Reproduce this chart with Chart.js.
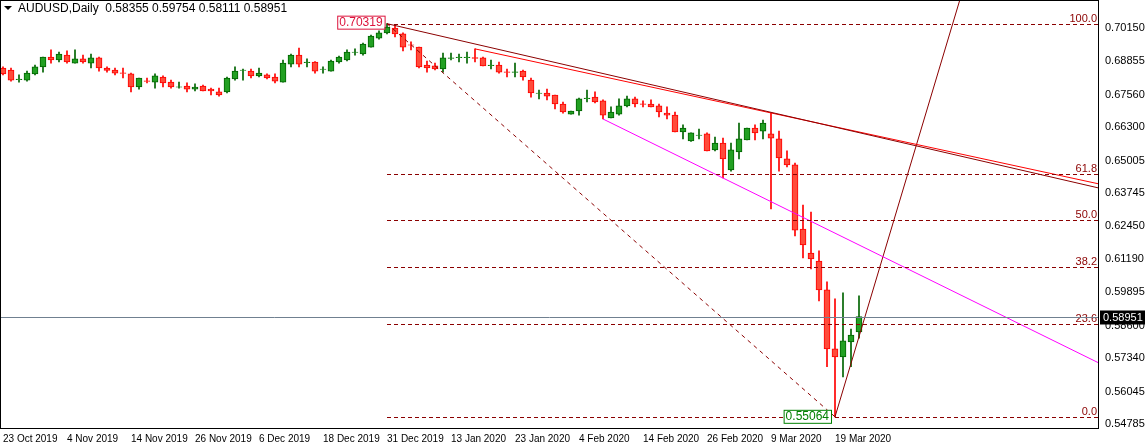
<!DOCTYPE html>
<html>
<head>
<meta charset="utf-8">
<script src="https://cdn.jsdelivr.net/npm/chart.js@4.4.0/dist/chart.umd.min.js"></script>
<style>
  body { margin: 0; background: #fff; }
  #wrap { width: 1145px; height: 448px; }
</style>
</head>
<body>
<div id="wrap"><canvas id="c"></canvas></div>
<script>
// Velas diarias AUDUSD
const opens  = [0.6860,0.6852,0.6815,0.6813,0.6837,0.6864,0.6902,0.6891,0.6910,0.6879,0.6895,0.6879,0.6899,0.6860,0.6852,0.6841,0.6837,0.6786,0.6810,0.6805,0.6825,0.6805,0.6785,0.6790,0.6778,0.6790,0.6778,0.6767,0.6767,0.6817,0.6850,0.6848,0.6829,0.6833,0.6825,0.6805,0.6875,0.6910,0.6881,0.6883,0.6854,0.6848,0.6883,0.6891,0.6920,0.6914,0.6941,0.6976,0.6996,0.7015,0.6992,0.6950,0.6941,0.6871,0.6868,0.6856,0.6897,0.6900,0.6900,0.6900,0.6899,0.6869,0.6871,0.6845,0.6843,0.6848,0.6813,0.6761,0.6763,0.6755,0.6720,0.6681,0.6693,0.6741,0.6747,0.6732,0.6666,0.6681,0.6713,0.6740,0.6721,0.6720,0.6713,0.6685,0.6677,0.6612,0.6577,0.6598,0.6604,0.6542,0.6569,0.6464,0.6534,0.6581,0.6627,0.6615,0.6604,0.6585,0.6507,0.6484,0.6235,0.6142,0.6111,0.5999,0.5770,0.5739,0.5797,0.58355];
const highs  = [0.6864,0.6860,0.6833,0.6848,0.6871,0.6902,0.6930,0.6922,0.6926,0.6930,0.6910,0.6914,0.6902,0.6864,0.6860,0.6860,0.6840,0.6821,0.6821,0.6837,0.6829,0.6813,0.6805,0.6802,0.6798,0.6794,0.6782,0.6782,0.6825,0.6864,0.6856,0.6856,0.6860,0.6837,0.6837,0.6891,0.6914,0.6937,0.6895,0.6885,0.6864,0.6891,0.6906,0.6930,0.6934,0.6957,0.6988,0.7004,0.70319,0.7027,0.6996,0.6961,0.6941,0.6887,0.6879,0.6918,0.6918,0.6914,0.6922,0.6934,0.6902,0.6891,0.6883,0.6856,0.6879,0.6852,0.6821,0.6774,0.6778,0.6755,0.6728,0.6693,0.6743,0.6774,0.6767,0.6736,0.6709,0.6740,0.6751,0.6747,0.6732,0.6736,0.6720,0.6709,0.6689,0.6639,0.6608,0.6623,0.6608,0.6592,0.6588,0.6569,0.6646,0.6627,0.6639,0.6658,0.6685,0.6615,0.6538,0.6491,0.6328,0.6301,0.6150,0.6030,0.5964,0.5987,0.5847,0.59754];
const lows   = [0.6833,0.6809,0.6805,0.6809,0.6833,0.6844,0.6879,0.6883,0.6879,0.6879,0.6879,0.6860,0.6848,0.6844,0.6833,0.6821,0.6767,0.6778,0.6802,0.6782,0.6786,0.6782,0.6782,0.6767,0.6771,0.6771,0.6755,0.6751,0.6763,0.6813,0.6813,0.6821,0.6825,0.6817,0.6802,0.6805,0.6864,0.6864,0.6864,0.6840,0.6840,0.6848,0.6879,0.6887,0.6910,0.6910,0.6941,0.6972,0.6992,0.6980,0.6926,0.6930,0.6860,0.6844,0.6852,0.6844,0.6891,0.6883,0.6879,0.6883,0.6868,0.6856,0.6840,0.6825,0.6825,0.6813,0.6747,0.6740,0.6736,0.6701,0.6685,0.6681,0.6677,0.6728,0.6724,0.6662,0.6666,0.6677,0.6709,0.6709,0.6709,0.6709,0.6670,0.6662,0.6612,0.6585,0.6575,0.6585,0.6538,0.6538,0.6433,0.6460,0.6507,0.6581,0.6581,0.6585,0.6313,0.6460,0.6476,0.6208,0.6123,0.6080,0.5956,0.5701,0.55064,0.5661,0.5701,0.58111];
const closes = [0.6837,0.6813,0.6817,0.6840,0.6864,0.6902,0.6891,0.6914,0.6883,0.6895,0.6883,0.6899,0.6860,0.6850,0.6840,0.6839,0.6786,0.6821,0.6808,0.6829,0.6802,0.6786,0.6787,0.6778,0.6786,0.6771,0.6771,0.6755,0.6821,0.6848,0.6852,0.6829,0.6840,0.6821,0.6809,0.6879,0.6910,0.6875,0.6883,0.6848,0.6856,0.6887,0.6902,0.6922,0.6922,0.6953,0.6984,0.6996,0.7019,0.6992,0.6941,0.6948,0.6864,0.6860,0.6856,0.6899,0.6899,0.6902,0.6902,0.6897,0.6868,0.6871,0.6844,0.6843,0.6845,0.6825,0.6763,0.6763,0.6751,0.6720,0.6689,0.6693,0.6740,0.6743,0.6728,0.6677,0.6689,0.6713,0.6740,0.6720,0.6719,0.6709,0.6689,0.6677,0.6612,0.6627,0.6608,0.6600,0.6538,0.6569,0.6507,0.6542,0.6585,0.6627,0.6608,0.6646,0.6588,0.6511,0.6484,0.6231,0.6173,0.6119,0.5999,0.5770,0.5739,0.5801,0.5824,0.58951];

// Etiquetas del eje X (cada 8 velas) y del eje Y
const fechas = ['23 Oct 2019','4 Nov 2019','14 Nov 2019','26 Nov 2019','6 Dec 2019','18 Dec 2019','31 Dec 2019','13 Jan 2020','23 Jan 2020','4 Feb 2020','14 Feb 2020','26 Feb 2020','9 Mar 2020','19 Mar 2020'];
const precios = [0.70150,0.68855,0.67560,0.66300,0.65005,0.63745,0.62450,0.61190,0.59895,0.58600,0.57340,0.56045,0.54785];

// Retroceso de Fibonacci
const fibAlto = 0.70319, fibBajo = 0.55064;
const fibNiveles = [100.0, 61.8, 50.0, 38.2, 23.6, 0.0];
const precioActual = 0.58951;

// Líneas de tendencia (índice de vela, precio)
const tendOscura = [{x:48,y:0.70319},{x:137,y:0.6394}];
const tendRoja   = [{x:59,y:0.6934},{x:137,y:0.6410}];
const tendMagenta= [{x:75,y:0.6662},{x:137,y:0.5715}];
const diagFib    = [{x:48,y:0.70319},{x:104,y:0.55064}];
const subida     = [{x:104,y:0.55064},{x:119.6,y:0.71237}];

const idx = opens.map((_, i) => i);
const alcista = idx.map(i => closes[i] >= opens[i]);

const ROJO = '#ff0000', VERDE = '#006400', GRANATE = '#8b0000';
const FUENTE = '"Liberation Sans", Arial, sans-serif';

function linea(data, color, dash) {
  return { type: 'line', data, borderColor: color, borderWidth: 1, borderDash: dash || [],
           pointRadius: 0, fill: false, tension: 0, order: 0 };
}

function sinRelleno(s) { s.paddingTop = 0; s.paddingBottom = 0; s.paddingLeft = 0; s.paddingRight = 0; }

const extras = {
  id: 'extras',
  afterDatasetsDraw(chart) {
    const { ctx, chartArea: a, scales: { x, y } } = chart;
    ctx.save();
    // niveles de Fibonacci
    const x0 = x.getPixelForValue(48);
    ctx.font = '11px ' + FUENTE;
    ctx.textAlign = 'right';
    ctx.textBaseline = 'bottom';
    fibNiveles.forEach(n => {
      const p = fibBajo + (fibAlto - fibBajo) * n / 100;
      const py = Math.round(y.getPixelForValue(p)) + 0.5;
      ctx.strokeStyle = GRANATE; ctx.setLineDash([4, 3]); ctx.lineWidth = 1;
      ctx.beginPath(); ctx.moveTo(x0, py); ctx.lineTo(a.right, py); ctx.stroke();
      ctx.fillStyle = GRANATE;
      ctx.fillText(n.toFixed(1), a.right - 2, py);
    });
    ctx.setLineDash([]);
    // precio actual
    const pa = Math.round(y.getPixelForValue(precioActual)) + 0.5;
    ctx.strokeStyle = '#708090';
    ctx.beginPath(); ctx.moveTo(a.left, pa); ctx.lineTo(a.right, pa); ctx.stroke();
    // cajas de precio alto / bajo
    ctx.textAlign = 'left'; ctx.textBaseline = 'middle';
    ctx.font = '12px ' + FUENTE;
    const caja = (txt, px, py, color) => {
      const w = ctx.measureText(txt).width + 4;
      ctx.fillStyle = '#fff'; ctx.fillRect(px - w, py - 7, w, 14);
      ctx.strokeStyle = color; ctx.strokeRect(px - w + 0.5, py - 6.5, w, 13);
      ctx.fillStyle = color; ctx.fillText(txt, px - w + 2, py);
    };
    caja('0.70319', x.getPixelForValue(47.7), y.getPixelForValue(fibAlto) - 1, '#dc143c');
    caja('0.55064', x.getPixelForValue(103.5), y.getPixelForValue(fibBajo), '#008000');
    // marco
    ctx.strokeStyle = '#000';
    ctx.strokeRect(a.left + 0.5, a.top + 0.5, a.right - a.left - 1, a.bottom - a.top);
    // etiqueta de precio actual en el eje
    ctx.fillStyle = '#000';
    ctx.fillRect(a.right + 1, pa - 7, 46, 14);
    ctx.fillStyle = '#fff'; ctx.font = '11px ' + FUENTE;
    ctx.fillText(precioActual.toFixed(5), a.right + 4, pa);
    // título
    ctx.fillStyle = '#000';
    ctx.beginPath(); ctx.moveTo(4, 6); ctx.lineTo(12, 6); ctx.lineTo(8, 10); ctx.fill();
    ctx.font = '12px ' + FUENTE; ctx.textBaseline = 'middle';
    ctx.fillText('AUDUSD,Daily  0.58355 0.59754 0.58111 0.58951', 18, 9);
    ctx.restore();
  }
};

new Chart(document.getElementById('c'), {
  type: 'bar',
  data: {
    datasets: [
      linea(tendOscura, GRANATE),
      linea(tendRoja, ROJO),
      linea(tendMagenta, '#ff00ff'),
      linea(diagFib, GRANATE, [4, 4]),
      linea(subida, GRANATE),
      {
        label: 'mechas',
        data: idx.map(i => ({ x: i, y: [lows[i], highs[i]] })),
        backgroundColor: idx.map(i => alcista[i] ? VERDE : ROJO),
        barThickness: 1, grouped: false, order: 2
      },
      {
        label: 'cuerpos',
        data: idx.map(i => ({ x: i, y: [opens[i], closes[i]] })),
        backgroundColor: idx.map(i => alcista[i] ? '#22a022' : '#ff4b3a'),
        borderColor: idx.map(i => alcista[i] ? VERDE : ROJO),
        borderWidth: 1, borderSkipped: false,
        barThickness: 6, grouped: false, order: 1
      }
    ]
  },
  options: {
    responsive: true,
    maintainAspectRatio: false,
    animation: false,
    layout: { padding: 0 },
    plugins: { legend: { display: false }, tooltip: { enabled: false } },
    scales: {
      x: {
        type: 'linear', min: -0.375, max: 137, offset: false,
        grid: { display: false, drawTicks: true, tickLength: 4, color: '#000' },
        border: { display: false },
        afterBuildTicks: s => { s.ticks = fechas.map((_, k) => ({ value: k * 8 })); },
        afterFit: s => { s.height = 20; sinRelleno(s); },
        ticks: {
          autoSkip: false, maxRotation: 0, align: 'start', padding: 1,
          color: '#000', font: { family: FUENTE, size: 10 },
          callback: v => fechas[v / 8]
        }
      },
      y: {
        position: 'right', min: 0.5463, max: 0.71237,
        grid: { display: false, tickLength: 4, color: '#000' },
        border: { display: false },
        afterBuildTicks: s => { s.ticks = precios.map(v => ({ value: v })); },
        afterFit: s => { s.width = 46; sinRelleno(s); },
        ticks: {
          autoSkip: false, padding: 2, color: '#000',
          font: { family: FUENTE, size: 11 },
          callback: v => v.toFixed(5)
        }
      }
    }
  },
  plugins: [extras]
});
</script>
</body>
</html>
